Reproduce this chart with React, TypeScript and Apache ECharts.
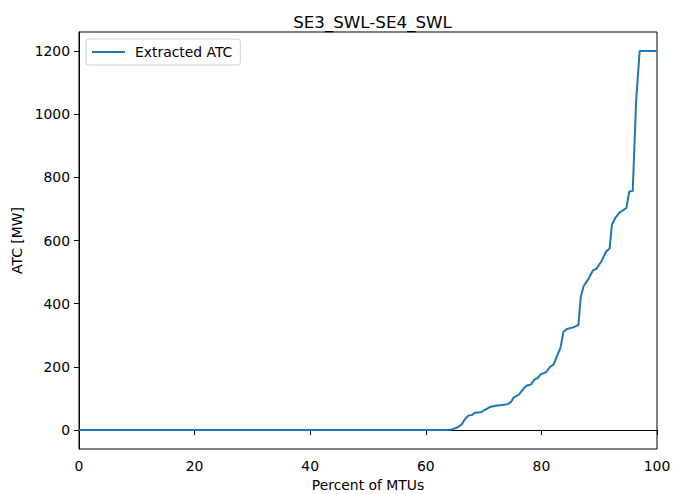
import React, { useEffect, useRef } from "react";
import * as echarts from "echarts";

const percentOfMTUs = [
  0, 63.5, 64.5, 65.5, 66.2, 66.8, 67.3, 68.0, 68.5, 69.5, 70.3, 71.0, 72.0, 73.3, 74.2, 74.8,
  75.2, 76.1, 77.0, 77.5, 78.2, 78.8, 79.4, 79.9, 80.8, 81.5, 82.1, 82.7, 83.3, 83.8, 84.4,
  85.5, 86.4, 86.8, 87.3, 88.2, 88.9, 89.5, 90.4, 91.2, 91.8, 92.2, 92.8, 93.5, 94.7, 95.2,
  95.8, 96.4, 97.0, 100,
];
const atcMW = [
  0, 0, 2, 8, 18, 35, 45, 48, 55, 56, 65, 72, 77, 79, 82, 90,
  103, 112, 133, 141, 144, 160, 165, 177, 183, 200, 207, 235, 260, 310, 320,
  325, 332, 420, 455, 480, 505, 510, 535, 565, 575, 650, 672, 688, 703, 755,
  757, 1045, 1200, 1200,
];
const yTicks = [0, 200, 400, 600, 800, 1000, 1200];

export default function App() {
  const ref = useRef<HTMLDivElement>(null);
  useEffect(() => {
    if (!ref.current) return;
    const chart = echarts.init(ref.current, null, { renderer: "svg" });
    const font = "DejaVu Sans";
    const fs = 13.9;
    chart.setOption({
      animation: false,
      backgroundColor: "#fff",
      textStyle: { fontFamily: font },
      title: {
        text: "SE3_SWL-SE4_SWL",
        left: 367.5,
        textAlign: "center",
        top: 8,
        textStyle: { fontFamily: font, fontSize: 16.7, fontWeight: "normal", color: "#000" },
      },
      legend: {
        left: 86,
        top: 39,
        data: [{ name: "Extracted ATC", icon: "rect" }],
        itemWidth: 33,
        itemHeight: 2,
        padding: [6, 8, 6, 6],
        borderColor: "#d0d0d0",
        borderWidth: 1,
        borderRadius: 3,
        textStyle: { fontFamily: font, fontSize: fs, color: "#000", padding: [0, 0, 0, 5] },
      },
      grid: {
        left: 79,
        right: 16,
        top: 32,
        bottom: 45,
        outerBoundsMode: "none",
        containLabel: false,
        show: true,
        borderColor: "#000",
        borderWidth: 1,
        backgroundColor: "transparent",
      },
      xAxis: {
        type: "value",
        min: 0,
        max: 100,
        interval: 20,
        name: "Percent of MTUs",
        nameLocation: "middle",
        nameGap: 29,
        nameTextStyle: { fontFamily: font, fontSize: fs, color: "#000" },
        axisLine: { show: true, lineStyle: { color: "#000", width: 1 } },
        axisTick: { show: true, length: 5, lineStyle: { color: "#000" } },
        axisLabel: { fontFamily: font, fontSize: fs, color: "#000", margin: 10 },
        splitLine: { show: false },
      },
      yAxis: {
        type: "value",
        min: -60,
        max: 1260,
        name: "ATC [MW]",
        nameLocation: "middle",
        nameGap: 54,
        nameTextStyle: { fontFamily: font, fontSize: fs, color: "#000" },
        axisLine: { show: true, lineStyle: { color: "#000", width: 1 } },
        axisTick: { show: true, length: 5, lineStyle: { color: "#000" }, customValues: yTicks },
        axisLabel: {
          fontFamily: font,
          fontSize: fs,
          color: "#000",
          margin: 9,
          customValues: yTicks,
          formatter: (v: number) => String(v),
        },
        splitLine: { show: false },
      },
      series: [
        {
          name: "Extracted ATC",
          type: "line",
          data: percentOfMTUs.map((x, i) => [x, atcMW[i]]),
          showSymbol: false,
          symbol: "none",
          lineStyle: { color: "#1f77b4", width: 2 },
          itemStyle: { color: "#1f77b4" },
        },
      ],
    });
    return () => chart.dispose();
  }, []);
  return <div ref={ref} style={{ width: 673, height: 494, position: "absolute", left: 0, top: 0 }} />;
}
